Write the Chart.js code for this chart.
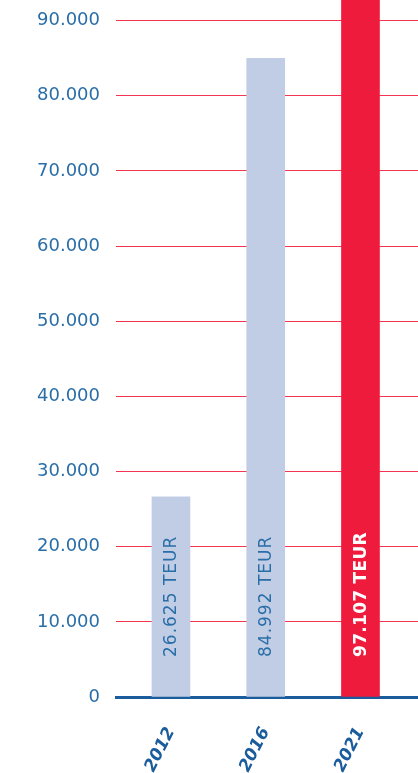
<!DOCTYPE html>
<html>
<head>
<meta charset="utf-8">
<script src="https://cdn.jsdelivr.net/npm/chart.js@4"></script>
<style>
html,body{margin:0;padding:0;background:#fff;}
#wrap{width:418px;height:773px;position:relative;}
</style>
</head>
<body>
<div id="wrap"><canvas id="c" width="418" height="773"></canvas></div>
<script>
const years = ['2012', '2016', '2021'];
const values = [26625, 84992, 97107];
const unit = 'TEUR';
const yTicks = [0, 10000, 20000, 30000, 40000, 50000, 60000, 70000, 80000, 90000];

const barColors = ['#c1cde5', '#c1cde5', '#ee1b3c'];
const labelColors = ['#2a6ea8', '#2a6ea8', '#ffffff'];
const labelBold = [false, false, true];

function fmt(n){ return String(n).replace(/\B(?=(\d{3})+(?!\d))/g, '.'); }

const barLabels = {
  id: 'barLabels',
  afterDatasetsDraw(chart){
    const ctx = chart.ctx;
    const meta = chart.getDatasetMeta(0);
    const y0 = chart.scales.y.getPixelForValue(0);
    meta.data.forEach((bar, i) => {
      ctx.save();
      ctx.translate(bar.x, y0 - 40);
      ctx.rotate(-Math.PI/2);
      ctx.font = (labelBold[i] ? 'bold ' : '') + '17px "DejaVu Sans"';
      ctx.letterSpacing = labelBold[i] ? '0.3px' : '1px';
      ctx.fillStyle = labelColors[i];
      ctx.textAlign = 'left';
      ctx.textBaseline = 'middle';
      ctx.fillText(fmt(values[i]) + ' ' + unit, 0, 1);
      ctx.restore();
    });
  }
};

function zeroPad(scale){
  scale.paddingTop = 0; scale.paddingBottom = 0;
  scale.paddingLeft = 0; scale.paddingRight = 0;
}

new Chart(document.getElementById('c'), {
  type: 'bar',
  data: {
    datasets: [{
      data: values.map((v, i) => ({x: i, y: v})),
      backgroundColor: barColors,
      borderWidth: 0,
      barThickness: 38
    }]
  },
  options: {
    responsive: false,
    animation: false,
    layout: {padding: 0},
    plugins: {legend: {display: false}, tooltip: {enabled: false}},
    scales: {
      x: {
        type: 'linear',
        offset: false,
        min: -0.58,
        max: 2.607,
        afterBuildTicks(scale){ scale.ticks = years.map((y, i) => ({value: i})); },
        afterFit(scale){ scale.height = 76; zeroPad(scale); },
        grid: {display: false, drawTicks: false},
        border: {display: true, color: '#1b5c9c', width: 3},
        ticks: {
          autoSkip: false,
          minRotation: 63,
          maxRotation: 63,
          padding: 27,
          color: '#1b5c9c',
          font: {family: '"DejaVu Sans"', size: 17, weight: 'bold', style: 'italic'},
          callback: (v) => years[v]
        }
      },
      y: {
        min: 0,
        max: 92750,
        afterBuildTicks(scale){ scale.ticks = yTicks.map(v => ({value: v})); },
        afterFit(scale){ scale.width = 116; zeroPad(scale); },
        grid: {
          color: (c) => c.tick && c.tick.value === 0 ? 'rgba(0,0,0,0)' : '#f23650',
          lineWidth: 1,
          drawTicks: false
        },
        border: {display: false},
        ticks: {
          padding: 16,
          color: '#2a6ea8',
          font: {family: '"DejaVu Sans"', size: 18},
          callback: (v) => fmt(v)
        }
      }
    }
  },
  plugins: [barLabels]
});
</script>
</body>
</html>
